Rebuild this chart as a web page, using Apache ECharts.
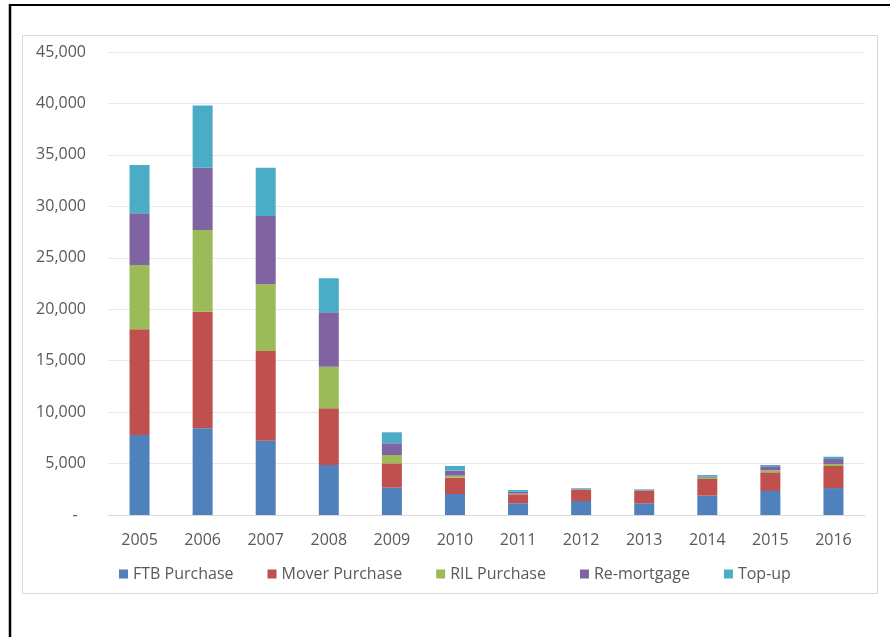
<!DOCTYPE html>
<html>
<head>
<meta charset="utf-8">
<title>Mortgage lending by type</title>
<script src="https://cdn.jsdelivr.net/npm/echarts@6/dist/echarts.min.js"></script>
<style>
  html, body { margin: 0; padding: 0; background: #fff; }
  #chart { width: 890px; height: 637px; }
</style>
</head>
<body>
<div id="chart"></div>
<script>
// data
const years = ['2005', '2006', '2007', '2008', '2009', '2010', '2011', '2012', '2013', '2014', '2015', '2016']
const ftbPurchase = [7780, 8430, 7220, 4860, 2650, 2040, 1140, 1360, 1140, 1880, 2330, 2620]
const moverPurchase = [10270, 11330, 8720, 5510, 2370, 1590, 870, 1070, 1190, 1620, 1820, 2140]
const rilPurchase = [6250, 7940, 6480, 4040, 810, 190, 60, 40, 50, 130, 195, 195]
const remortgage = [5025, 6060, 6640, 5290, 1140, 490, 180, 50, 60, 100, 390, 485]
const topUp = [4700, 6030, 4700, 3310, 1070, 460, 180, 80, 60, 160, 125, 225]

const seriesNames = ['FTB Purchase', 'Mover Purchase', 'RIL Purchase', 'Re-mortgage', 'Top-up']
const seriesValues = [ftbPurchase, moverPurchase, rilPurchase, remortgage, topUp]
const colors = ['#4f81bd', '#c0504d', '#9bbb59', '#8064a2', '#4bacc6']

const font = '"Open Sans", "Liberation Sans", sans-serif'

const chart = echarts.init(document.getElementById('chart'), null, { renderer: 'canvas' })

chart.setOption({
  animation: false,
  color: colors,
  textStyle: { fontFamily: font },
  graphic: [
    // chart area border
    {
      type: 'rect',
      shape: { x: 22.5, y: 35.5, width: 855, height: 558 },
      style: { fill: 'none', stroke: '#d9d9d9', lineWidth: 1 },
      z: -1
    },
    // black frame lines of the surrounding page
    {
      type: 'line',
      shape: { x1: 9, y1: 5, x2: 890, y2: 5 },
      style: { stroke: '#000', lineWidth: 2 }
    },
    {
      type: 'line',
      shape: { x1: 10, y1: 4, x2: 10, y2: 637 },
      style: { stroke: '#000', lineWidth: 2.5 }
    }
  ],
  grid: {
    left: 108,
    right: 25,
    top: 52,
    bottom: 122,
    containLabel: false
  },
  legend: {
    data: seriesNames,
    left: 114,
    top: 561,
    icon: 'rect',
    itemWidth: 9,
    itemHeight: 9,
    itemGap: 34,
    textStyle: { fontFamily: font, fontSize: 16, color: '#595959' }
  },
  xAxis: {
    type: 'category',
    data: years,
    axisLine: { lineStyle: { color: '#d9d9d9' } },
    axisTick: { show: false },
    axisLabel: { fontSize: 16, color: '#595959', margin: 17 }
  },
  yAxis: {
    type: 'value',
    min: 0,
    max: 45000,
    interval: 5000,
    axisLine: { show: false },
    axisTick: { show: false },
    splitLine: { lineStyle: { color: '#e8e8e8' } },
    axisLabel: {
      fontSize: 16,
      color: '#595959',
      margin: 22,
      formatter(v) {
        return v === 0 ? '-  ' : v.toLocaleString('en-US')
      }
    }
  },
  series: seriesNames.map((name, i) => ({
    name: name,
    type: 'bar',
    stack: 'total',
    barWidth: 20,
    data: seriesValues[i]
  }))
})
</script>
</body>
</html>
